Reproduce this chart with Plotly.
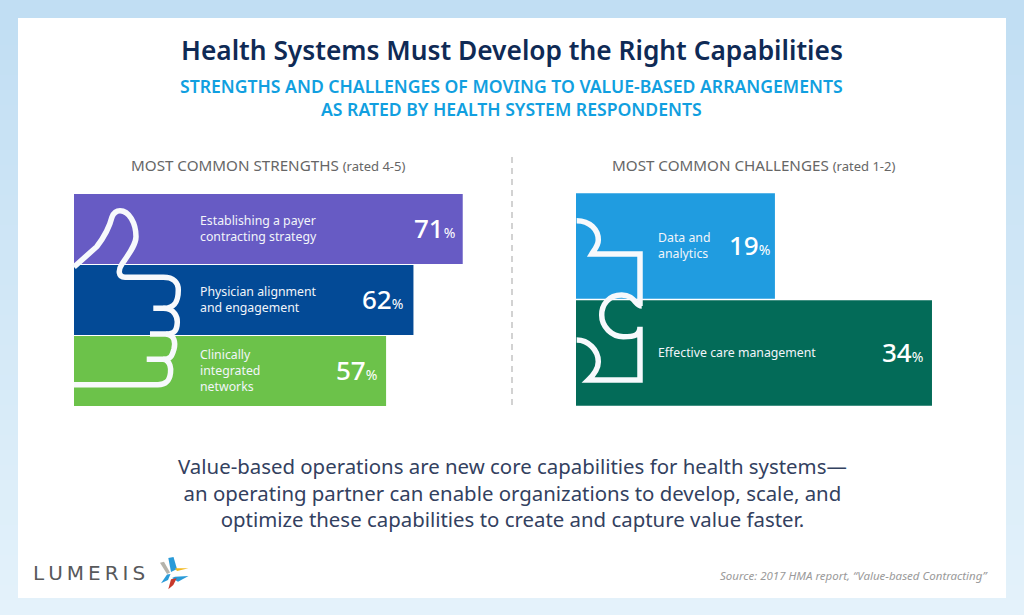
import plotly.graph_objects as go

W, H = 1024, 615

# chart values
strength_labels = ["Establishing a payer<br>contracting strategy", "Physician alignment<br>and engagement", "Clinically<br>integrated<br>networks"]
strength_values = [71, 62, 57]
strength_colors = ["#675bc4", "#034a96", "#6cc24a"]
challenge_labels = ["Data and<br>analytics", "Effective care management"]
challenge_values = [19, 34]
challenge_colors = ["#209ce0", "#036b58"]

FONT = "Noto Sans"

def xdom(a, b):
    return [a / W, b / W]

def ydom(top, bottom):
    return [1 - bottom / H, 1 - top / H]

fig = go.Figure()

# empty trace so the pixel axes (drawn first, under the bars) exist
fig.add_trace(go.Scatter(x=[], y=[], xaxis="x", yaxis="y", hoverinfo="skip"))
# left bars
fig.add_trace(go.Bar(y=strength_labels, x=strength_values, orientation="h",
                     marker=dict(color=strength_colors, line_width=0),
                     xaxis="x2", yaxis="y2", hoverinfo="skip"))
# right bars
fig.add_trace(go.Bar(y=challenge_labels, x=challenge_values, orientation="h",
                     marker=dict(color=challenge_colors, line_width=0),
                     xaxis="x3", yaxis="y3", hoverinfo="skip"))

# page background, card and decorations live on a hidden pixel axis pair
px = dict(xref="x", yref="y")
shapes = []
bands = 41
for i in range(bands):
    t = i / (bands - 1)
    c = "rgb(%d,%d,%d)" % (193 + t * 35, 222 + t * 20, 243 + t * 8)
    shapes.append(dict(type="rect", x0=0, x1=W, y0=i * H / bands, y1=(i + 1) * H / bands + 1,
                       fillcolor=c, line_width=0, layer="below", **px))
shapes.append(dict(type="rect", x0=18, x1=1006, y0=18, y1=598, fillcolor="white", line_width=0, layer="below", **px))
shapes.append(dict(type="line", x0=512, x1=512, y0=157, y1=406,
                   line=dict(color="#c4c4c4", width=1.5, dash="6px,5px"), layer="below", **px))

# thumb outline
thumb = [
    "M 74,267 L 96.7,246.7 C 105,236 110,225 112,217 C 114,212 117,210.7 120,210.7 C 129,210.7 136,223 136,236.7 C 136,245 128,255 122,264 C 118,270 118,277.3 125,277.3 L 163.3,277.3 C 174,277.3 178.3,283 178.3,290 C 178.3,300 176,308.3 163.3,308.3 L 153.3,308.3",
    "M 163.3,308.3 C 175,308.3 177.5,318 177.3,322 C 177,330 175,334 166,334 L 150,334",
    "M 166,334 C 175,335 175.5,343 174,349 C 172,356 171,359.3 163,359.3 L 146.7,359.3",
    "M 163,359.3 C 171,360 171,370 170.5,373 C 169.5,381 166,384.7 158,384.7 L 74,384.7",
]
for p in thumb:
    shapes.append(dict(type="path", path=p, line=dict(color="#f7f9fc", width=5.5), **px))

# puzzle outline
puzzle = [
    "M 576.7,220.7 C 590,220.7 598.3,230 598.3,240 C 598.3,246 594,250 591.7,254 L 640,254 L 640,306",
    "M 641.7,306 C 635,306 635,295 621.7,295 C 608.3,295 601.7,305 601.7,315 C 601.7,326.7 611.7,336.7 623.3,336.7 C 635,336.7 640,335 640,326.7 L 640,380 L 588.3,380 C 591.7,376.7 598.3,370 598.3,361.7 C 598.3,350 588.3,340 576.7,340",
]
for p in puzzle:
    shapes.append(dict(type="path", path=p, line=dict(color="#f7f9fc", width=5.5), **px))

# logo star
star = [
    ("M 168.3,558 L 173.5,557 L 177,569 L 171,572 Z", "#2a9bd8"),
    ("M 175,568.3 L 188.5,568.3 L 177,571 Z", "#f2b81f"),
    ("M 160,562.7 L 164,561.7 L 170,572.5 L 167,574 Z", "#b5b3ab"),
    ("M 161,583.3 L 167,574.5 L 170.5,574 L 168,580 Z", "#2a9bd8"),
    ("M 175,576.7 L 188.5,576 L 178,581.7 L 172,578 Z", "#2a9bd8"),
    ("M 168.3,589.3 L 171,579.3 L 176.7,578.3 L 173.3,585 Z", "#c8392b"),
]
for p, c in star:
    shapes.append(dict(type="path", path=p, fillcolor=c, line_width=0, **px))

annotations = []

def text(x, y, s, size, color, xanchor="center", weight=400, italic=False, font=FONT):
    if italic:
        s = "<i>" + s + "</i>"
    annotations.append(dict(x=x, y=y, text=s, showarrow=False, xanchor=xanchor, yanchor="middle",
                            align=xanchor, font=dict(family=font, size=size, color=color, weight=weight), **px))

text(512, 50, "Health Systems Must Develop the Right Capabilities", 26.3, "#0f2a55", weight=600)
text(511, 97.5, "STRENGTHS AND CHALLENGES OF MOVING TO VALUE-BASED ARRANGEMENTS<br>AS RATED BY HEALTH SYSTEM RESPONDENTS", 17.6, "#119fe0", weight=600)
text(129, 165, "MOST COMMON STRENGTHS <span style='font-size:13px'>(rated 4-5)</span>", 15.2, "#666666", xanchor="left")
text(610, 165, "MOST COMMON CHALLENGES <span style='font-size:13px'>(rated 1-2)</span>", 15.2, "#666666", xanchor="left")
text(512, 492, "Value-based operations are new core capabilities for health systems—<br>an operating partner can enable organizations to develop, scale, and<br>optimize these capabilities to create and capture value faster.", 20.4, "#33415f")
text(990, 575, "Source: 2017 HMA report, “Value-based Contracting”", 11.5, "#9a9a9a", xanchor="right", italic=True)
text(31, 573, "L\u2009U\u2009M\u2009E\u2009R\u2009I\u2009S", 20, "#58595b", xanchor="left", font="DejaVu Sans")

# bar labels and percentages
def bar_labels(labels, values, xref, yref, label_x, shifts):
    for lab, v, shift in zip(labels, values, shifts):
        annotations.append(dict(x=label_x, xref="x", y=lab, yref=yref, yshift=1, text=lab, showarrow=False, xanchor="left",
                                align="left", font=dict(family=FONT, size=12.3, color="#f2f5fa")))
        annotations.append(dict(x=v, xref=xref, y=lab, yref=yref, xshift=shift, yshift=1, showarrow=False, xanchor="right",
                                text="%d<span style='font-size:14px;font-weight:400'>%%</span>" % v,
                                font=dict(family=FONT, size=26, color="white", weight=500)))

bar_labels(strength_labels, strength_values, "x2", "y2", 198, [-6, -8, -7])
bar_labels(challenge_labels, challenge_values, "x3", "y3", 656, [-3, -7])

hidden = dict(visible=False, fixedrange=True)
fig.update_layout(
    width=W, height=H, margin=dict(l=0, r=0, t=0, b=0),
    paper_bgcolor="white", plot_bgcolor="rgba(0,0,0,0)", showlegend=False,
    bargap=0.014,
    xaxis=dict(domain=[0, 1], range=[0, W], anchor="y", **hidden),
    yaxis=dict(domain=[0, 1], range=[H, 0], anchor="x", **hidden),
    # 5.475 px per percent on the left, 10.47 on the right
    xaxis2=dict(domain=xdom(74, 490), range=[0, 416 / 5.475], anchor="y2", **hidden),
    yaxis2=dict(domain=ydom(193.5, 406.5), autorange="reversed", anchor="x2", **hidden),
    xaxis3=dict(domain=xdom(576, 960), range=[0, 384 / 10.47], anchor="y3", **hidden),
    yaxis3=dict(domain=ydom(192.5, 406.5), autorange="reversed", anchor="x3", **hidden),
    shapes=shapes, annotations=annotations,
)

fig.write_html("out.html", config=dict(displayModeBar=False),
               post_script="document.body.style.margin='0';window.dispatchEvent(new Event('resize'));")
